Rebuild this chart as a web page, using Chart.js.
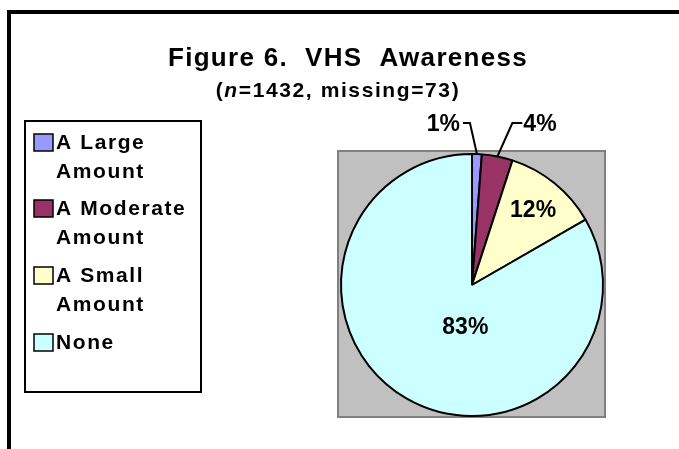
<!DOCTYPE html>
<html>
<head>
<meta charset="utf-8">
<script src="https://cdn.jsdelivr.net/npm/chart.js@4"></script>
<style>
  html, body { margin: 0; padding: 0; background: #fff; }
  #wrap { width: 679px; height: 449px; }
</style>
</head>
<body>
<div id="wrap"><canvas id="vhsChart" width="679" height="449"></canvas></div>
<script>
// Chart data
const titleText = 'Figure 6.  VHS  Awareness';
const subtitleParts = ['(', 'n', '=1432, missing=73)'];
const categories = ['A Large Amount', 'A Moderate Amount', 'A Small Amount', 'None'];
const legendLines = [['A Large', 'Amount'], ['A Moderate', 'Amount'], ['A Small', 'Amount'], ['None']];
const shares = [1.2, 3.8, 11.7, 83.3];
const sliceColors = ['#9999FF', '#993366', '#FFFFCC', '#CCFFFF'];

const FONT = "'Liberation Sans', Arial, sans-serif";

function spaced(ctx, px) {
    if ('letterSpacing' in ctx) ctx.letterSpacing = px + 'px';
}

// Frame, title, legend box and the grey plot area
const decorPlugin = {
    id: 'decor',
    beforeDraw(chart) {
        const ctx = chart.ctx;
        ctx.save();
        ctx.fillStyle = '#fff';
        ctx.fillRect(0, 0, chart.width, chart.height);

        // outer frame (cropped at right and bottom)
        ctx.fillStyle = '#000';
        ctx.fillRect(7, 10, chart.width - 7, 4);
        ctx.fillRect(7, 10, 4, chart.height - 10);

        // grey plot area
        ctx.fillStyle = '#C0C0C0';
        ctx.fillRect(337, 150, 269, 268);
        ctx.strokeStyle = '#808080';
        ctx.lineWidth = 2;
        ctx.strokeRect(338, 151, 267, 266);

        // title
        ctx.fillStyle = '#000';
        ctx.textAlign = 'center';
        ctx.textBaseline = 'alphabetic';
        ctx.font = 'bold 26px ' + FONT;
        spaced(ctx, 1.3);
        ctx.fillText(titleText, 348, 66);

        // subtitle with italic n
        spaced(ctx, 1.6);
        const fonts = ['bold 21px ', 'italic bold 21px ', 'bold 21px '];
        let total = 0;
        const widths = subtitleParts.map((t, i) => {
            ctx.font = fonts[i] + FONT;
            const w = ctx.measureText(t).width;
            total += w;
            return w;
        });
        let x = 338 - total / 2;
        ctx.textAlign = 'left';
        subtitleParts.forEach((t, i) => {
            ctx.font = fonts[i] + FONT;
            ctx.fillText(t, x, 97);
            x += widths[i];
        });

        // legend
        ctx.lineWidth = 2;
        ctx.strokeStyle = '#000';
        ctx.strokeRect(25, 121, 176, 271);
        ctx.font = 'bold 21px ' + FONT;
        spaced(ctx, 1.6);
        ctx.textBaseline = 'middle';
        const rowY = [142, 208, 275, 342];
        legendLines.forEach((lines, i) => {
            const y = rowY[i];
            ctx.fillStyle = sliceColors[i];
            ctx.fillRect(34, y - 8, 19, 17);
            ctx.lineWidth = 1.5;
            ctx.strokeRect(34, y - 8, 19, 17);
            ctx.fillStyle = '#000';
            lines.forEach((line, j) => ctx.fillText(line, 56, y + 1 + j * 29));
        });
        spaced(ctx, 0);
        ctx.restore();
    },
    afterDatasetsDraw(chart) {
        const ctx = chart.ctx;
        const arcs = chart.getDatasetMeta(0).data;
        ctx.save();
        ctx.fillStyle = '#000';
        ctx.strokeStyle = '#000';
        ctx.lineWidth = 2;
        ctx.font = 'bold 23px ' + FONT;
        spaced(ctx, 0);
        ctx.textBaseline = 'middle';
        arcs.forEach((arc, i) => {
            const p = arc.getProps(['x', 'y', 'startAngle', 'endAngle', 'outerRadius']);
            const mid = (p.startAngle + p.endAngle) / 2;
            const text = Math.round(shares[i]) + '%';
            if (shares[i] < 5) {
                // outside label with elbow leader
                const ax = p.x + Math.cos(mid) * p.outerRadius;
                const ay = p.y + Math.sin(mid) * p.outerRadius;
                const ly = p.y - p.outerRadius - 31;
                const left = i === 0;
                const ex = ax + (left ? -7 : 15);
                const tx = ex + (left ? -7 : 10);
                ctx.beginPath();
                ctx.moveTo(ax, ay);
                ctx.lineTo(ex, ly);
                ctx.lineTo(tx, ly);
                ctx.stroke();
                ctx.textAlign = left ? 'right' : 'left';
                ctx.fillText(text, tx + (left ? -3 : 1), ly + 2);
            } else {
                const big = shares[i] > 50;
                const f = big ? 0.33 : 0.74;
                const nudge = big ? 15 : 0;
                ctx.textAlign = 'center';
                ctx.fillText(text,
                    p.x + Math.cos(mid) * p.outerRadius * f + nudge,
                    p.y + Math.sin(mid) * p.outerRadius * f + (big ? 5 : 1));
            }
        });
        ctx.restore();
    }
};

new Chart(document.getElementById('vhsChart'), {
    type: 'pie',
    data: {
        labels: categories,
        datasets: [{
            data: shares,
            backgroundColor: sliceColors,
            borderColor: '#000',
            borderWidth: 2
        }]
    },
    options: {
        responsive: false,
        animation: false,
        layout: { padding: { left: 340, right: 75, top: 153, bottom: 32 } },
        plugins: {
            legend: { display: false },
            title: { display: false },
            tooltip: { enabled: false }
        }
    },
    plugins: [decorPlugin]
});
</script>
</body>
</html>
